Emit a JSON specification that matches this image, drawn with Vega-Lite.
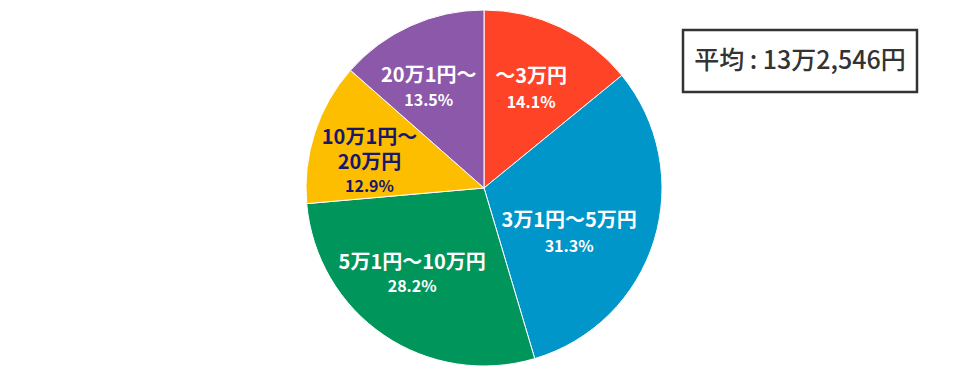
{
  "$schema": "https://vega.github.io/schema/vega-lite/v6.json",
  "background": "white",
  "padding": {"left": 304, "top": 8, "right": 40, "bottom": 4},
  "autosize": {"type": "pad"},
  "config": {"font": "Noto Sans CJK JP", "concat": {"spacing": 17}},
  "datasets": {
    "shares": [
      {"o": 1, "cat": "～3万円", "pct": 14.1, "label": "14.1%"},
      {"o": 2, "cat": "3万1円～5万円", "pct": 31.3, "label": "31.3%"},
      {"o": 3, "cat": "5万1円～10万円", "pct": 28.2, "label": "28.2%"},
      {"o": 4, "cat": "10万1円～\n20万円", "pct": 12.9, "label": "12.9%"},
      {"o": 5, "cat": "20万1円～", "pct": 13.5, "label": "13.5%"}
    ]
  },
  "hconcat": [
    {
      "width": 356,
      "height": 316,
      "view": {"stroke": null},
      "data": {"name": "shares"},
      "encoding": {
        "theta": {"field": "pct", "type": "quantitative", "stack": true},
        "order": {"field": "o", "type": "quantitative"}
      },
      "layer": [
        {
          "mark": {"type": "arc", "outerRadius": 178, "stroke": "white", "strokeWidth": 1},
          "encoding": {
            "color": {
              "field": "cat",
              "type": "nominal",
              "scale": {
                "domain": ["～3万円", "3万1円～5万円", "5万1円～10万円", "10万1円～\n20万円", "20万1円～"],
                "range": ["#ff4327", "#0096c9", "#00955b", "#fdbe00", "#8c58a9"]
              },
              "legend": null
            }
          }
        },
        {
          "mark": {"type": "text", "radius": 110, "fontSize": 20, "fontWeight": "bold", "baseline": "bottom", "dy": -2, "color": "white"},
          "encoding": {"text": {"condition": {"test": "datum.o === 1", "field": "cat"}, "value": ""}}
        },
        {
          "mark": {"type": "text", "radius": 110, "fontSize": 16, "fontWeight": "bold", "baseline": "top", "dy": 6, "color": "white"},
          "encoding": {"text": {"condition": {"test": "datum.o === 1", "field": "label"}, "value": ""}}
        },
        {
          "mark": {"type": "text", "radius": 110, "fontSize": 20, "fontWeight": "bold", "baseline": "bottom", "dx": -20, "dy": 11, "color": "white"},
          "encoding": {"text": {"condition": {"test": "datum.o === 2", "field": "cat"}, "value": ""}}
        },
        {
          "mark": {"type": "text", "radius": 110, "fontSize": 16, "fontWeight": "bold", "baseline": "top", "dx": -20, "dy": 19, "color": "white"},
          "encoding": {"text": {"condition": {"test": "datum.o === 2", "field": "label"}, "value": ""}}
        },
        {
          "mark": {"type": "text", "radius": 110, "fontSize": 20, "fontWeight": "bold", "baseline": "bottom", "dx": -10, "dy": -6, "color": "white"},
          "encoding": {"text": {"condition": {"test": "datum.o === 3", "field": "cat"}, "value": ""}}
        },
        {
          "mark": {"type": "text", "radius": 110, "fontSize": 16, "fontWeight": "bold", "baseline": "top", "dx": -10, "dy": 0, "color": "white"},
          "encoding": {"text": {"condition": {"test": "datum.o === 3", "field": "label"}, "value": ""}}
        },
        {
          "mark": {"type": "text", "radius": 110, "fontSize": 20, "fontWeight": "bold", "baseline": "bottom", "dx": -10, "dy": -2, "color": "white"},
          "encoding": {"text": {"condition": {"test": "datum.o === 5", "field": "cat"}, "value": ""}}
        },
        {
          "mark": {"type": "text", "radius": 110, "fontSize": 16, "fontWeight": "bold", "baseline": "top", "dx": -10, "dy": 5, "color": "white"},
          "encoding": {"text": {"condition": {"test": "datum.o === 5", "field": "label"}, "value": ""}}
        },
        {
          "mark": {"type": "text", "radius": 110, "fontSize": 20, "fontWeight": "bold", "baseline": "bottom", "dx": -10, "dy": -6, "lineBreak": "\n", "lineHeight": 25, "color": "#17176b"},
          "encoding": {"text": {"condition": {"test": "datum.o === 4", "field": "cat"}, "value": ""}}
        },
        {
          "mark": {"type": "text", "radius": 110, "fontSize": 16, "fontWeight": "bold", "baseline": "top", "dx": -10, "dy": 25, "color": "#17176b"},
          "encoding": {"text": {"condition": {"test": "datum.o === 4", "field": "label"}, "value": ""}}
        }
      ]
    },
    {
      "width": 234,
      "height": 62,
      "view": {"stroke": "#333333", "strokeWidth": 2.5, "fill": "white"},
      "data": {"values": [{"t": "平均 : 13万2,546円"}]},
      "mark": {"type": "text", "fontSize": 25, "fontWeight": 500, "color": "#333333"},
      "encoding": {"text": {"field": "t", "type": "nominal"}}
    }
  ]
}
